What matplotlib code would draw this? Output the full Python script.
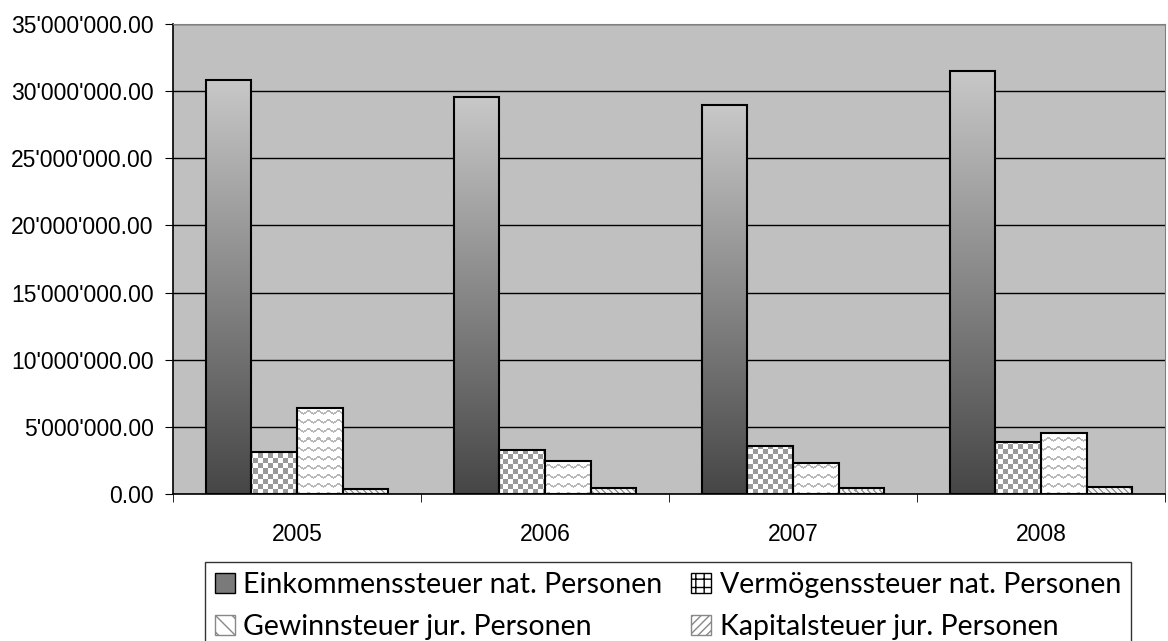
import numpy as np
import matplotlib.pyplot as plt
from matplotlib.colors import LinearSegmentedColormap
from matplotlib.patches import Patch
from matplotlib.ticker import FuncFormatter, MultipleLocator

years = ['2005', '2006', '2007', '2008']
einkommen = [30830000, 29560000, 28950000, 31520000]
vermoegen = [3130000, 3250000, 3570000, 3870000]
gewinn = [6420000, 2480000, 2330000, 4560000]
kapital = [390000, 420000, 450000, 520000]
labels = ['Einkommenssteuer nat. Personen', 'Vermögenssteuer nat. Personen',
          'Gewinnsteuer jur. Personen', 'Kapitalsteuer jur. Personen']

fig = plt.figure(figsize=(11.68, 6.41), dpi=100)
ax = fig.add_axes([173 / 1168, 1 - 494 / 641, 992 / 1168, 470 / 641])
ax.set_facecolor('#c0c0c0')

x = np.arange(len(years))
w = 0.184
series = [einkommen, vermoegen, gewinn, kapital]
bars = []
for i, vals in enumerate(series):
    b = ax.bar(x + (i - 1.5) * w, vals, w, color='none', edgecolor='black',
               linewidth=1.5, zorder=4)
    bars.append(b)

ax.set_xlim(-0.5, 3.5)
ax.set_ylim(0, 35000000)

# pixel textures covering the whole plot area
H, W = 470, 992
yy, xx = np.mgrid[0:H, 0:W]
checker = np.where(((xx // 5) + (yy // 5)) % 2 == 0, 0.6, 1.0)
wave_off = np.abs(((xx % 10) - 5)) * 0.7
wave = np.where(((yy + wave_off).astype(int) % 9) < 2, 0.72, 1.0)
diag = np.where(((xx + yy) % 6) < 2, 0.62, 0.95)
textures = [None, checker, wave, diag]

grad = LinearSegmentedColormap.from_list('g', ['#464646', '#c8c8c8'])
ext = (-0.5, 3.5, 0, 35000000)
for i, b in enumerate(bars):
    for p in b.patches:
        if i == 0:
            x0, h = p.get_x(), p.get_height()
            im = ax.imshow(np.linspace(0, 1, 256).reshape(-1, 1), cmap=grad,
                           extent=(x0, x0 + p.get_width(), 0, h), origin='lower',
                           aspect='auto', zorder=3, interpolation='bilinear')
        else:
            im = ax.imshow(textures[i], cmap='gray', vmin=0, vmax=1, extent=ext,
                           origin='lower', aspect='auto', zorder=3,
                           interpolation='nearest')
        im.set_clip_path(p)
ax.set_xlim(-0.5, 3.5)
ax.set_ylim(0, 35000000)

ax.yaxis.set_major_locator(MultipleLocator(5000000))
ax.yaxis.set_major_formatter(FuncFormatter(lambda v, _: f"{v:,.2f}".replace(',', "'")))
ax.grid(axis='y', color='black', linewidth=1, zorder=1)
ax.set_axisbelow(True)

ax.set_xticks(x)
ax.set_xticklabels(years)
ax.set_xticks(np.arange(-0.5, 4, 1), minor=True)
ax.tick_params(axis='x', which='major', length=0, pad=21)
ax.tick_params(axis='x', which='minor', length=6, direction='out', color='black')
ax.tick_params(axis='y', length=6, direction='out', pad=8)
for lab in ax.get_xticklabels() + ax.get_yticklabels():
    lab.set_fontfamily('Liberation Sans')
    lab.set_fontsize(16.5)

for s in ['left', 'bottom']:
    ax.spines[s].set_color('black')
    ax.spines[s].set_linewidth(1.2)
for s in ['top', 'right']:
    ax.spines[s].set_color('#808080')

handles = [
    Patch(facecolor='#7a7a7a', edgecolor='black', label=labels[0]),
    Patch(facecolor='white', edgecolor='black', hatch='++', label=labels[1]),
    Patch(facecolor='white', edgecolor='#888888', hatch='\\\\', label=labels[2]),
    Patch(facecolor='white', edgecolor='#888888', hatch='////', label=labels[3]),
]
order = [0, 2, 1, 3]
leg = fig.legend([handles[k] for k in order], [labels[k] for k in order],
                 loc='upper left', bbox_to_anchor=(205 / 1168, 1 - 562 / 641),
                 ncol=2, frameon=True, fancybox=False, edgecolor='black',
                 prop={'family': 'Lato', 'size': 20.5}, handlelength=0.7,
                 handleheight=0.7, handletextpad=0.3, columnspacing=1.0,
                 labelspacing=0.55, borderpad=0.35, borderaxespad=0)
leg.get_frame().set_linewidth(1.0)

fig.savefig('out.png', dpi=100)
